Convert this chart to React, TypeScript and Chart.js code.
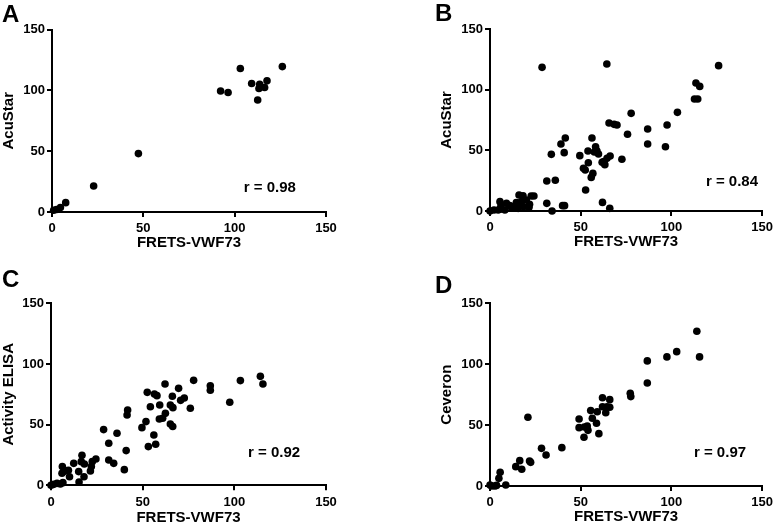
import React, { useEffect, useRef } from "react";
import { Chart, registerables } from "chart.js";

Chart.register(...registerables);

const axisTicks = [0, 50, 100, 150];
const xTitle = "FRETS-VWF73";
const panelLetters = ["A", "B", "C", "D"];
const yTitles = ["AcuStar", "AcuStar", "Activity ELISA", "Ceveron"];
const rTexts = ["r = 0.98", "r = 0.84", "r = 0.92", "r = 0.97"];

// Panel A: FRETS-VWF73 vs AcuStar
const aX = [0.9, 2.5, 4.6, 7.5, 22.8, 47.3, 92.3, 96.4, 103.1, 109.3, 112.6, 113.7, 113.3, 116.4, 117.7, 126.1];
const aY = [1.4, 2.0, 3.6, 7.7, 21.4, 48, 99.5, 98.2, 117.9, 105.6, 92.1, 105, 101.5, 102.3, 107.8, 119.5];

// Panel B: FRETS-VWF73 vs AcuStar
const bX = [28.7, 64.4, 126, 113.5, 115.6, 112.7, 114.5, 103.3, 97.6, 96.7, 86.9, 86.9, 77.8, 75.8, 70, 68.4, 65.6, 72.7, 66.2, 64.5, 62.7, 63.3, 61.8, 56.2, 54, 58.2, 58.9, 59.8, 57.5, 54.2, 56.7, 55.8, 52.7, 51.5, 52.5, 49.5, 41.5, 39.1, 40.9, 33.8, 31.3, 36, 31.3, 34.2, 40, 41.1, 62, 66, 0, 2.2, 4.5, 5.5, 5.8, 9.1, 10.9, 13.1, 14.5, 16, 17.3, 18.2, 20, 21.8, 22.7, 24.2, 21.5, 15.5, 11.8, 8.2, 6, 16.5, 18.5];
const bY = [118.4, 121.2, 119.8, 105.5, 102.7, 92.3, 92.3, 81.3, 70.9, 53, 67.6, 55.2, 80.5, 63.2, 70.9, 71.4, 72.5, 42.6, 45.3, 43.4, 40.7, 38.2, 40.1, 60.2, 49.5, 53, 49.7, 47, 48.6, 39.8, 31, 27.7, 17.3, 35.2, 33.8, 45.6, 60.2, 55.2, 48.1, 46.7, 24.7, 25.3, 6.3, 0, 4.4, 4.4, 7.1, 2.2, 0, 0.8, 0.8, 7.7, 1.4, 6.3, 4.4, 3.6, 6.9, 13.2, 7.7, 12.6, 9.1, 5.5, 12.4, 12.4, 3, 2.2, 3, 0.8, 4, 4.5, 3.5];

// Panel C: FRETS-VWF73 vs Activity ELISA
const cX = [114.2, 115.6, 103.3, 97.5, 86.9, 86.9, 77.8, 76, 72.7, 70.7, 69.6, 66.2, 66.5, 65.1, 62.2, 62.4, 60.9, 59.1, 59.3, 57.8, 56.4, 52.5, 54.2, 51.8, 49.6, 65.1, 66.4, 57.1, 53.1, 56.1, 41.8, 41.5, 36, 28.7, 31.5, 31.5, 34.2, 41, 40, 24.5, 22.5, 22, 21.5, 18.2, 16.9, 16.5, 15.1, 15.3, 18, 12.4, 9.5, 10.1, 6.2, 6.9, 6, 6.5, 5.1, 3.3, 1.5, 0, 7.8];
const cY = [89.8, 83.5, 86.3, 68.4, 82.1, 78.3, 86.5, 63.5, 72, 70, 79.9, 73.4, 64, 66.2, 83.5, 59.3, 55.2, 54.7, 66.2, 73.9, 75.3, 76.6, 64.8, 52.5, 47.5, 50.5, 48.4, 33.8, 31.9, 41.5, 62.1, 58, 42.9, 45.9, 34.6, 20.9, 18.1, 28.6, 12.9, 21.7, 19.5, 15.4, 11.8, 17.6, 24.7, 19.5, 11.3, 2.7, 7.1, 18.1, 12.4, 7.1, 15.4, 11.3, 9.9, 2.2, 1.1, 1.6, 0.8, 0, 12];

// Panel D: FRETS-VWF73 vs Ceveron
const dX = [114, 115.5, 102.9, 97.5, 86.7, 86.7, 77.3, 77.6, 66, 66, 64.5, 63.8, 62, 62, 59.1, 58.7, 60, 55.5, 56.4, 53.6, 54, 52, 51.8, 49.1, 49.1, 39.6, 30.9, 28.4, 20.9, 22.4, 21.8, 17.5, 16.4, 14.2, 5.6, 4.9, 8.7, 2.7, 0, 0.9, 3.6];
const dY = [127, 106, 110.3, 106, 102.7, 84.6, 76.1, 73.4, 70.9, 64.6, 65.1, 60.2, 72.5, 65.1, 61, 51.5, 43, 61.9, 55.6, 49.3, 45.7, 48.5, 40, 55, 47.9, 31.5, 25.5, 30.9, 56.4, 19.4, 20.5, 13.7, 20.8, 15.9, 11.2, 6.3, 0.8, 0, 0.8, 0, 0.5];

const xsList = [aX, bX, cX, dX];
const ysList = [aY, bY, cY, dY];
// r-annotation anchor in data units
const rAnchorX = [105, 119, 107.5, 112.4];
const rAnchorY = [16.7, 20.6, 23.6, 24];

// layout (pixels)
const layouts = [
  { cl: 0, ct: 0, cw: 388, ch: 264, pl: 52, pt: 29.5, pr: 326, pb: 212, padL: 0, titleY: 243, lx: 2, ly: 21.5 },
  { cl: 388, ct: 0, cw: 389, ch: 264, pl: 490, pt: 29, pr: 765, pb: 211, padL: 50, titleY: 241.5, lx: 47, ly: 20.7 },
  { cl: 0, ct: 264, cw: 388, ch: 265, pl: 51, pt: 303.3, pr: 326, pb: 485.3, padL: 0, titleY: 517.5, lx: 2, ly: 22.7 },
  { cl: 388, ct: 264, cw: 389, ch: 265, pl: 490, pt: 303.3, pr: 765, pb: 486, padL: 50, titleY: 517, lx: 47, ly: 29.3 },
];

const FONT = '"Liberation Sans", Arial, Helvetica, sans-serif';

const textPlugin = {
  id: "panelText",
  afterDraw(chart: any, _args: any, opts: any) {
    const ctx = chart.ctx;
    ctx.save();
    ctx.fillStyle = "#000";
    ctx.textAlign = "left";
    ctx.textBaseline = "alphabetic";
    ctx.font = `bold 24px ${FONT}`;
    ctx.fillText(opts.letter, opts.lx, opts.ly);
    ctx.font = `bold 15px ${FONT}`;
    const x = chart.scales.x.getPixelForValue(opts.rx);
    const y = chart.scales.y.getPixelForValue(opts.ry);
    ctx.fillText(opts.rText, x, y);
    ctx.restore();
  },
};

function Panel({ idx }: { idx: number }) {
  const ref = useRef<HTMLCanvasElement>(null);
  const L = layouts[idx];
  useEffect(() => {
    if (!ref.current) return;
    const xs = xsList[idx];
    const ys = ysList[idx];
    const data = xs.map((x, i) => ({ x, y: ys[i] }));
    const yW = L.pl - L.cl - L.padL;
    const xH = L.ct + L.ch - L.pb;
    const titlePadBottom = L.ct + L.ch - L.titleY - 9;
    const commonGrid = {
      display: true,
      drawOnChartArea: false,
      drawTicks: true,
      tickLength: 5,
      color: "#000",
      lineWidth: 2,
    };
    const chart = new Chart(ref.current, {
      type: "scatter",
      data: {
        datasets: [
          {
            data,
            backgroundColor: "#000",
            borderColor: "#000",
            pointRadius: 3.8,
            pointBorderWidth: 0,
            pointHoverRadius: 3.8,
            clip: false,
          } as any,
        ],
      },
      options: {
        responsive: false,
        animation: false,
        devicePixelRatio: 1,
        events: [],
        layout: {
          padding: {
            left: L.padL,
            top: L.pt - L.ct,
            right: L.cl + L.cw - L.pr,
            bottom: 0,
          },
        },
        plugins: {
          legend: { display: false },
          tooltip: { enabled: false },
          title: { display: false },
          panelText: {
            letter: panelLetters[idx],
            lx: L.lx,
            ly: L.ly,
            rText: rTexts[idx],
            rx: rAnchorX[idx],
            ry: rAnchorY[idx],
          },
        } as any,
        scales: {
          x: {
            type: "linear",
            position: "bottom",
            min: 0,
            max: 150,
            grid: commonGrid,
            border: { display: true, color: "#000", width: 2 },
            ticks: {
              color: "#000",
              font: { family: FONT, size: 13, weight: "bold" },
              padding: 4,
              maxRotation: 0,
              autoSkip: false,
            },
            afterBuildTicks: (s: any) => {
              s.ticks = axisTicks.map((v) => ({ value: v }));
            },
            afterFit: (s: any) => {
              s.height = xH;
            },
            title: {
              display: true,
              text: xTitle,
              color: "#000",
              font: { family: FONT, size: 15, weight: "bold", lineHeight: 1.2 },
              padding: { top: 0, bottom: titlePadBottom },
            },
          },
          y: {
            type: "linear",
            position: "left",
            min: 0,
            max: 150,
            grid: commonGrid,
            border: { display: true, color: "#000", width: 2 },
            ticks: {
              color: "#000",
              font: { family: FONT, size: 13, weight: "bold" },
              padding: 2,
            },
            afterBuildTicks: (s: any) => {
              s.ticks = axisTicks.map((v) => ({ value: v }));
            },
            afterFit: (s: any) => {
              s.width = yW;
            },
            title: {
              display: true,
              text: yTitles[idx],
              color: "#000",
              font: { family: FONT, size: 15, weight: "bold", lineHeight: 1.2 },
              padding: { top: 0, bottom: 0 },
            },
          },
        },
      } as any,
      plugins: [textPlugin as any],
    });
    return () => chart.destroy();
  }, [idx]);
  return (
    <canvas
      ref={ref}
      width={L.cw}
      height={L.ch}
      style={{ position: "absolute", left: L.cl, top: L.ct, width: L.cw, height: L.ch }}
    />
  );
}

export default function App() {
  return (
    <div
      style={{
        position: "absolute",
        left: 0,
        top: 0,
        width: 777,
        height: 529,
        background: "#fff",
        overflow: "hidden",
      }}
    >
      {[0, 1, 2, 3].map((i) => (
        <Panel key={i} idx={i} />
      ))}
    </div>
  );
}
